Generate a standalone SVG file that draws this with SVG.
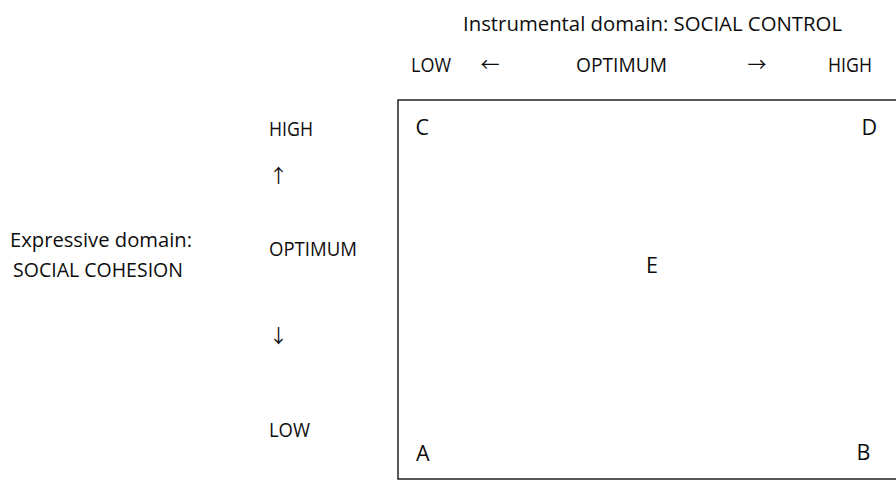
<svg xmlns="http://www.w3.org/2000/svg" width="896" height="482" viewBox="0 0 896 482">
  <style>
    text { font-family: "Open Sans", "Liberation Sans", sans-serif; fill: #0d0d0d; }
    .title { font-size: 20.4px; }
    .scale { font-size: 19.2px; }
    .corner { font-size: 21.5px; }
    .arrow { font-family: "Noto Sans CJK JP", "DejaVu Sans", sans-serif; font-size: 19px; }
    .frame { fill: none; stroke: #222; stroke-width: 1.5; }
  </style>
  <rect width="896" height="482" fill="#fff"/>

  <!-- horizontal axis: social control -->
  <g id="axis-x">
    <text class="title" x="463" y="31" textLength="379" lengthAdjust="spacingAndGlyphs">Instrumental domain: SOCIAL CONTROL</text>
    <text class="scale" x="411" y="71.5" textLength="40" lengthAdjust="spacingAndGlyphs">LOW</text>
    <text class="arrow" x="490" y="72" text-anchor="middle">←</text>
    <text class="scale" x="576" y="71.5" textLength="91" lengthAdjust="spacingAndGlyphs">OPTIMUM</text>
    <text class="arrow" x="757" y="72" text-anchor="middle">→</text>
    <text class="scale" x="828" y="71.5" textLength="44" lengthAdjust="spacingAndGlyphs">HIGH</text>
  </g>

  <!-- vertical axis: social cohesion -->
  <g id="axis-y">
    <text class="title" x="101" y="247" text-anchor="middle" textLength="182" lengthAdjust="spacingAndGlyphs">Expressive domain:</text>
    <text class="title" x="98" y="277" text-anchor="middle" textLength="170" lengthAdjust="spacingAndGlyphs">SOCIAL COHESION</text>
    <text class="scale" x="269" y="136" textLength="44" lengthAdjust="spacingAndGlyphs">HIGH</text>
    <text class="arrow" x="278.5" y="183" text-anchor="middle">↑</text>
    <text class="scale" x="269" y="256" textLength="88" lengthAdjust="spacingAndGlyphs">OPTIMUM</text>
    <text class="arrow" x="278.5" y="343" text-anchor="middle">↓</text>
    <text class="scale" x="269" y="437" textLength="41" lengthAdjust="spacingAndGlyphs">LOW</text>
  </g>

  <!-- outcome space -->
  <g id="frame">
    <rect class="frame" x="398" y="100" width="510" height="379"/>
  </g>

  <g id="corner-c"><text class="corner" x="415.5" y="135">C</text></g>
  <g id="corner-d"><text class="corner" x="861.5" y="135">D</text></g>
  <g id="center-e"><text class="corner" x="646" y="273">E</text></g>
  <g id="corner-a"><text class="corner" x="416" y="461">A</text></g>
  <g id="corner-b"><text class="corner" x="856.5" y="460">B</text></g>
</svg>
